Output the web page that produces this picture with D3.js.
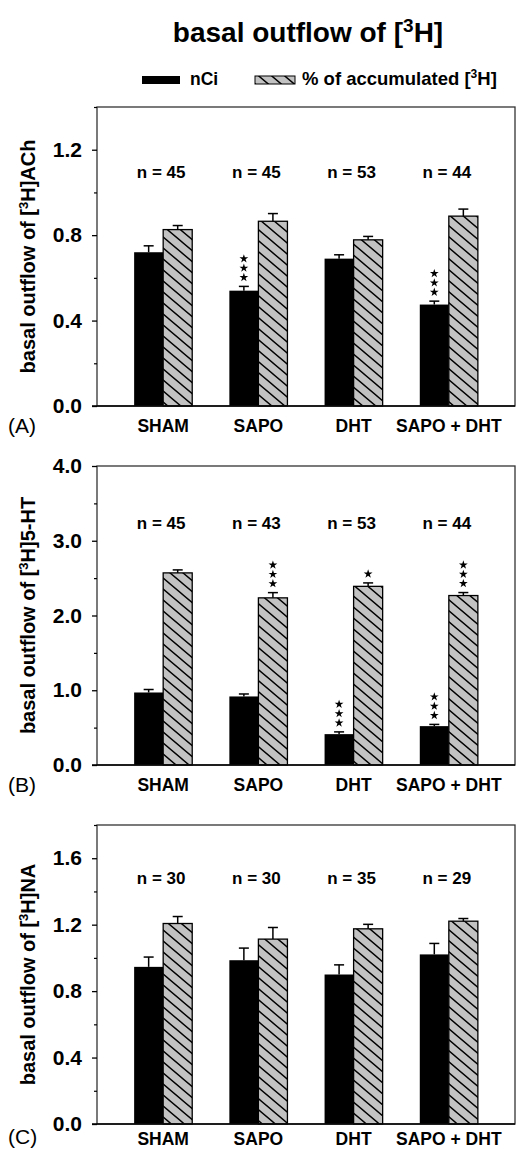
<!DOCTYPE html>
<html>
<head>
<meta charset="utf-8">
<script src="https://cdn.jsdelivr.net/npm/d3@7"></script>
<style>
  body { margin: 0; background: #fff; }
  text { font-family: "Liberation Sans", Arial, sans-serif; }
</style>
</head>
<body>
<script>
const groups = ["SHAM", "SAPO", "DHT", "SAPO + DHT"];

// (A) [3H]ACh
const achNci = [0.72, 0.54, 0.69, 0.475];
const achNciErr = [0.03, 0.02, 0.018, 0.016];
const achPct = [0.826, 0.865, 0.778, 0.889];
const achPctErr = [0.019, 0.036, 0.016, 0.033];
const achN = [45, 45, 53, 44];
const achNciStars = [0, 3, 0, 3];
const achPctStars = [0, 0, 0, 0];
const achMajor = [0, 0.4, 0.8, 1.2];
const achMinor = [0.2, 0.6, 1.0, 1.4];

// (B) [3H]5-HT
const htNci = [0.97, 0.917, 0.413, 0.52];
const htNciErr = [0.04, 0.033, 0.03, 0.023];
const htPct = [2.57, 2.236, 2.39, 2.267];
const htPctErr = [0.04, 0.07, 0.046, 0.04];
const htN = [45, 43, 53, 44];
const htNciStars = [0, 0, 3, 3];
const htPctStars = [0, 3, 1, 3];
const htMajor = [0, 1, 2, 3, 4];
const htMinor = [0.5, 1.5, 2.5, 3.5];

// (C) [3H]NA
const naNci = [0.946, 0.986, 0.90, 1.021];
const naNciErr = [0.059, 0.073, 0.058, 0.066];
const naPct = [1.207, 1.113, 1.175, 1.221];
const naPctErr = [0.042, 0.07, 0.027, 0.016];
const naN = [30, 30, 35, 29];
const naNciStars = [0, 0, 0, 0];
const naPctStars = [0, 0, 0, 0];
const naMajor = [0, 0.4, 0.8, 1.2, 1.6];
const naMinor = [0.2, 0.6, 1.0, 1.4, 1.8];

const panels = [
  { letter: "(A)", tail: "H]ACh", max: 1.4, top: 107, nci: achNci, nciErr: achNciErr, pct: achPct, pctErr: achPctErr,
    n: achN, nciStars: achNciStars, pctStars: achPctStars, major: achMajor, minor: achMinor, nY: 172, letterDy: 27, xlDy: 25.5 },
  { letter: "(B)", tail: "H]5-HT", max: 4.0, top: 466, nci: htNci, nciErr: htNciErr, pct: htPct, pctErr: htPctErr,
    n: htN, nciStars: htNciStars, pctStars: htPctStars, major: htMajor, minor: htMinor, nY: 523, letterDy: 27, xlDy: 25.5 },
  { letter: "(C)", tail: "H]NA", max: 1.8, top: 825, nci: naNci, nciErr: naNciErr, pct: naPct, pctErr: naPctErr,
    n: naN, nciStars: naNciStars, pctStars: naPctStars, major: naMajor, minor: naMinor, nY: 878, letterDy: 20, xlDy: 20.5 }
];

const W = 516, H = 1149;
const left = 97, right = 515, ph = 299;

const svg = d3.select("body").append("svg")
  .attr("width", W)
  .attr("height", H);

// hatch pattern
const pat = svg.append("defs").append("pattern")
  .attr("id", "hatch")
  .attr("patternUnits", "userSpaceOnUse")
  .attr("width", 13)
  .attr("height", 11);
pat.append("rect").attr("width", 13).attr("height", 11).attr("fill", "#c2c2c2");
pat.append("path")
  .attr("d", "M-13,-11L26,22M0,-11L26,11M-13,0L13,22")
  .attr("stroke", "#000")
  .attr("stroke-width", 1.4);

// title
const title = svg.append("text")
  .attr("x", 308)
  .attr("y", 42)
  .attr("text-anchor", "middle")
  .style("font-size", "28px")
  .style("font-weight", "bold");
title.append("tspan").text("basal outflow of [");
title.append("tspan").attr("baseline-shift", "super").style("font-size", "19px").text("3");
title.append("tspan").text("H]");

// legend
svg.append("rect").attr("x", 142).attr("y", 76).attr("width", 38).attr("height", 8).attr("fill", "#000");
svg.append("text").attr("x", 190).attr("y", 85)
  .style("font-size", "17.5px").style("font-weight", "bold").text("nCi");
svg.append("rect").attr("x", 255).attr("y", 76).attr("width", 40).attr("height", 8)
  .attr("fill", "url(#hatch)").attr("stroke", "#000").attr("stroke-width", 1);
const leg = svg.append("text").attr("x", 302).attr("y", 85)
  .style("font-size", "18.5px").style("font-weight", "bold");
leg.append("tspan").text("% of accumulated [");
leg.append("tspan").attr("baseline-shift", "super").style("font-size", "12px").text("3");
leg.append("tspan").text("H]");

const x0 = d3.scaleBand()
  .domain(groups)
  .range([left, right])
  .paddingInner(0.39)
  .paddingOuter(0.39);

const x1 = d3.scaleBand()
  .domain(["nci", "pct"])
  .range([0, x0.bandwidth()]);

const star = d3.symbol(d3.symbolStar, 24);

panels.forEach(p => {
  const y = d3.scaleLinear().domain([0, p.max]).range([p.top + ph, p.top]);
  const g = svg.append("g");

  const bars = groups.flatMap((grp, i) => [
    { grp, key: "nci", v: p.nci[i], e: p.nciErr[i], s: p.nciStars[i] },
    { grp, key: "pct", v: p.pct[i], e: p.pctErr[i], s: p.pctStars[i] }
  ]);

  g.selectAll("rect.bar")
    .data(bars)
    .join("rect")
    .attr("class", "bar")
    .attr("x", d => x0(d.grp) + x1(d.key))
    .attr("y", d => y(d.v))
    .attr("width", x1.bandwidth())
    .attr("height", d => y(0) - y(d.v))
    .attr("fill", d => d.key === "nci" ? "#000" : "url(#hatch)")
    .attr("stroke", d => d.key === "nci" ? "none" : "#000")
    .attr("stroke-width", 1.3);

  // error bars (upper only)
  const eb = g.selectAll("g.err")
    .data(bars)
    .join("g")
    .attr("class", "err")
    .attr("stroke", "#000")
    .attr("stroke-width", 1.5);
  const cx = d => x0(d.grp) + x1(d.key) + x1.bandwidth() / 2;
  eb.append("line")
    .attr("x1", cx).attr("x2", cx)
    .attr("y1", d => y(d.v)).attr("y2", d => y(d.v + d.e));
  eb.append("line")
    .attr("x1", d => cx(d) - 5).attr("x2", d => cx(d) + 5)
    .attr("y1", d => y(d.v + d.e)).attr("y2", d => y(d.v + d.e));

  // significance stars
  bars.filter(d => d.s > 0).forEach(d => {
    d3.range(d.s).forEach(k => {
      g.append("path")
        .attr("d", star)
        .attr("fill", "#000")
        .attr("transform", `translate(${cx(d)},${y(d.v + d.e) - 9 - k * 9.3})`);
    });
  });

  // n labels
  g.selectAll("text.n")
    .data(groups)
    .join("text")
    .attr("class", "n")
    .attr("x", d => x0(d) + x0.bandwidth() / 2 - 2)
    .attr("y", p.nY)
    .attr("dy", "0.35em")
    .attr("text-anchor", "middle")
    .style("font-size", "17px")
    .style("font-weight", "bold")
    .text((d, i) => `n = ${p.n[i]}`);

  // frame
  g.append("rect")
    .attr("x", left).attr("y", p.top)
    .attr("width", right - left).attr("height", ph)
    .attr("fill", "none")
    .attr("stroke", "#333")
    .attr("stroke-width", 1.3);
  g.append("line")
    .attr("x1", left - 5).attr("x2", right)
    .attr("y1", y(0)).attr("y2", y(0))
    .attr("stroke", "#000").attr("stroke-width", 1.5);

  // y axis
  const ax = g.append("g")
    .attr("transform", `translate(${left},0)`)
    .call(d3.axisLeft(y).tickValues(p.major).tickSize(5).tickPadding(10).tickFormat(d3.format(".1f")));
  ax.select(".domain").remove();
  ax.selectAll("text")
    .style("font-size", "21px")
    .style("font-weight", "bold")
    .attr("fill", "#000");
  ax.selectAll("line").attr("stroke-width", 1.3);

  const mx = g.append("g")
    .attr("transform", `translate(${left},0)`)
    .call(d3.axisLeft(y).tickValues(p.minor).tickSize(3).tickFormat(""));
  mx.select(".domain").remove();
  mx.selectAll("line").attr("stroke-width", 1.2);

  // y title
  const yt = g.append("text")
    .attr("transform", `translate(35,${p.top + ph / 2}) rotate(-90)`)
    .attr("text-anchor", "middle")
    .style("font-size", "20px")
    .style("font-weight", "bold");
  yt.append("tspan").text("basal outflow of [");
  yt.append("tspan").attr("baseline-shift", "super").style("font-size", "13px").text("3");
  yt.append("tspan").text(p.tail);

  // x labels
  g.selectAll("text.xl")
    .data(groups)
    .join("text")
    .attr("class", "xl")
    .attr("x", d => x0(d) + x0.bandwidth() / 2)
    .attr("y", y(0) + p.xlDy)
    .attr("text-anchor", "middle")
    .style("font-size", "17.5px")
    .style("font-weight", "bold")
    .text(d => d);

  // panel letter
  g.append("text")
    .attr("x", 8)
    .attr("y", y(0) + p.letterDy)
    .style("font-size", "21px")
    .text(p.letter);
});
</script>
</body>
</html>
